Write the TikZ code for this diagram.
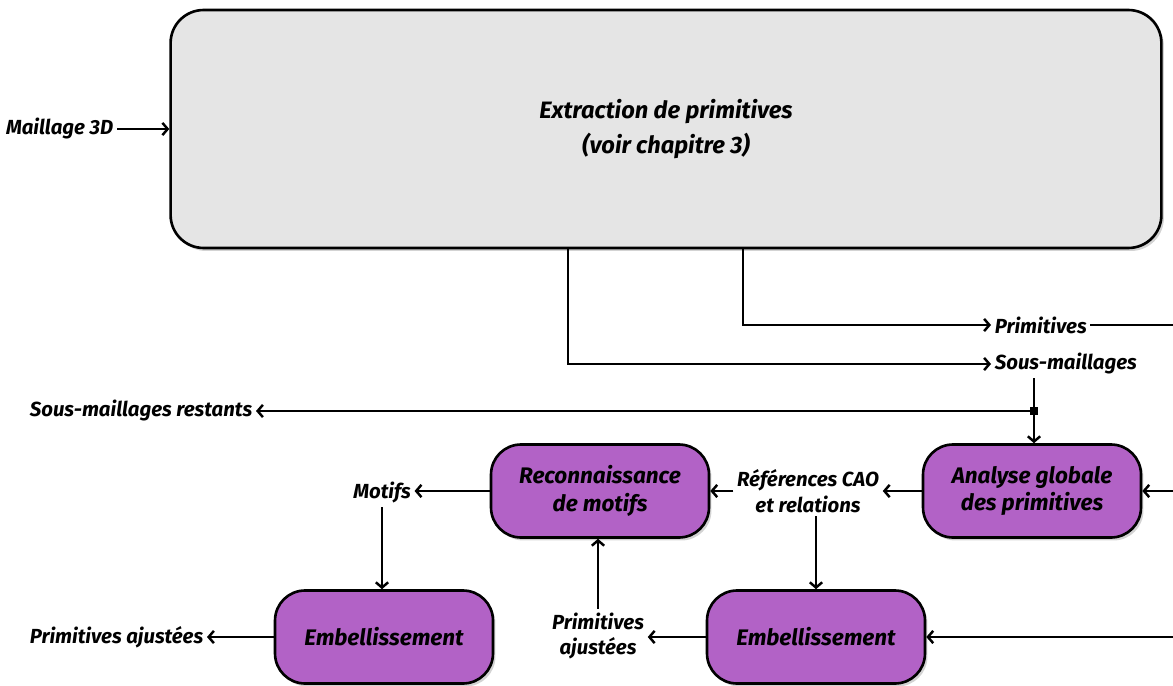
\documentclass[tikz,border=0pt]{standalone}
\usepackage{fontspec}
\setmainfont{Fira Sans}
\usetikzlibrary{positioning,shadows,arrows.meta}

\definecolor{boxviolet}{RGB}{178,98,198}
\definecolor{boxgris}{RGB}{229,229,229}

\tikzset{
  ombre/.style={drop shadow={shadow xshift=0.05cm, shadow yshift=-0.06cm, opacity=0.35}},
  etape/.style={draw, line width=1.5pt, fill=boxviolet, rounded corners=0.6cm,
    minimum width=4.36cm, minimum height=1.86cm, align=center, ombre,
    font=\bfseries\itshape\fontsize{12.8}{15.5}\selectfont},
  lbl/.style={inner sep=2pt, align=center},
  fleche/.style={-{Straight Barb[length=3pt, width=7pt, line width=1.4pt]}, line width=1.4pt},
  trait/.style={line width=1.4pt}
}

\begin{document}
\begin{tikzpicture}[x=0.02cm, y=-0.02cm, font=\bfseries\itshape\fontsize{11.6}{14.5}\selectfont]
    \useasboundingbox (0,0) rectangle (1173,686);

    % bloc principal
    \node[draw, line width=1.5pt, fill=boxgris, rounded corners=0.66cm,
      minimum width=19.82cm, minimum height=4.76cm, align=center, ombre,
      font=\bfseries\itshape\fontsize{13.5}{20}\selectfont] (extr) at (666,129)
      {Extraction de primitives\\(voir chapitre 3)};

    % etapes
    \node[etape] (ana) at (1032,491) {Analyse globale\\des primitives};
    \node[etape] (reco) at (600,491) {Reconnaissance\\de motifs};
    \node[etape] (emb2) at (816,637) {Embellissement};
    \node[etape] (emb1) at (384,637) {Embellissement};

    % donnees
    \node[lbl, anchor=east] (maillage) at (117,129) {Maillage 3D};
    \node[lbl, anchor=west] (prim) at (991,325) {Primitives};
    \node[lbl, anchor=west] (sm) at (991,364) {Sous-maillages};
    \node[lbl, anchor=east] (smr) at (256,411) {Sous-maillages restants};
    \node[lbl] (ref) at (808,491) {Références CAO\\et relations};
    \node[lbl] (motifs) at (382,493) {Motifs};
    \node[lbl] (pa2) at (598,636) {Primitives\\ajustées};
    \node[lbl, anchor=east] (pa1) at (207,637) {Primitives ajustées};
    \node[fill, inner sep=0pt, minimum size=4pt] (j) at (1034,411) {};
    \coordinate (bordP) at (1173,325);
    \coordinate (bordA) at (1173,491);
    \coordinate (bordE) at (1173,637);

    % liaisons
    \draw[fleche] (maillage.east) -- (maillage.east -| extr.west);
    \draw[fleche] ([xshift=-1.96cm]extr.south) |- (sm.west);
    \draw[fleche] ([xshift=1.54cm]extr.south) |- (prim.west);
    \draw[trait] (prim.east) -- (bordP);
    \draw[trait] (sm.south -| j) -- (j);
    \draw[fleche] (j) -- (smr.east);
    \draw[fleche] (j) -- (j |- ana.north);
    \draw[fleche] (bordA) -- (ana.east);
    \draw[fleche] (ana.west) -- (ref.east);
    \draw[fleche] (ref.west) -- (reco.east);
    \draw[fleche] (reco.west) -- (reco.west -| motifs.east);
    \draw[fleche] (motifs.south) -- (motifs.south |- emb1.north);
    \draw[fleche] (ref.south -| emb2.north) -- (emb2.north);
    \draw[fleche] (bordE) -- (emb2.east);
    \draw[fleche] (emb2.west) -- (emb2.west -| pa2.east);
    \draw[fleche] (pa2.north) -- (pa2.north |- reco.south);
    \draw[fleche] (emb1.west) -- (pa1.east);
\end{tikzpicture}
\end{document}
